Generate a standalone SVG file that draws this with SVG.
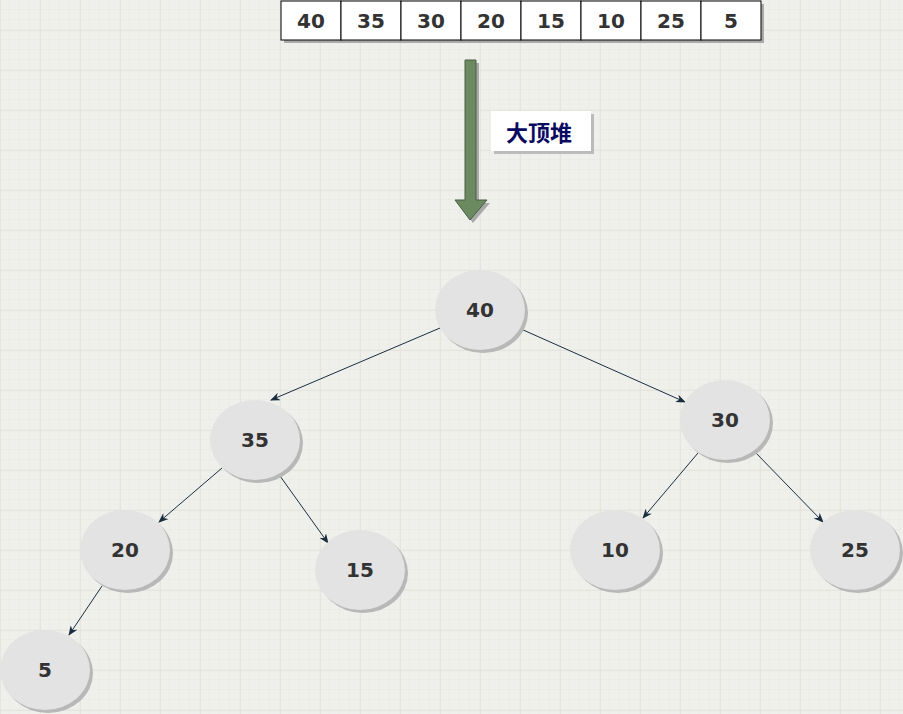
<svg xmlns="http://www.w3.org/2000/svg" width="903" height="714" viewBox="0 0 903 714">
<defs>
<pattern id="gm" width="10" height="10" patternUnits="userSpaceOnUse" x="0" y="0"><path d="M10 0V10M0 10H10" fill="none" stroke="#e4e4dc" stroke-width="0.6"/></pattern>
<pattern id="gM" width="40" height="40" patternUnits="userSpaceOnUse" x="0" y="30"><path d="M0 0H40M0 0V40" fill="none" stroke="#dcdccf" stroke-width="1"/></pattern>
<marker id="ah" markerWidth="10" markerHeight="8" refX="9" refY="4" orient="auto" markerUnits="userSpaceOnUse"><path d="M0 0L10 4L0 8L3 4Z" fill="#1b2e40"/></marker>
</defs>
<style>
.n ellipse.s{fill:#b8b8b8}
.n ellipse.f{fill:#e3e3e3}
.n text,.c text{font-family:"DejaVu Sans",sans-serif;font-size:20px;font-weight:bold;fill:#333;text-anchor:middle;dominant-baseline:central}
.c rect{fill:#fff;stroke:#000;stroke-width:1}
#conn line{stroke:#1b2e40;stroke-width:1;marker-end:url(#ah)}
</style>
<rect width="903" height="714" fill="#efefec"/>
<rect width="903" height="714" fill="url(#gm)"/>
<rect width="903" height="714" fill="url(#gM)"/>
<g id="array" class="c">
<rect x="284" y="4" width="480" height="39" style="fill:#aaa;stroke:none"/>
<rect x="281" y="1" width="60" height="39"/><text x="311" y="21">40</text>
<rect x="341" y="1" width="60" height="39"/><text x="371" y="21">35</text>
<rect x="401" y="1" width="60" height="39"/><text x="431" y="21">30</text>
<rect x="461" y="1" width="60" height="39"/><text x="491" y="21">20</text>
<rect x="521" y="1" width="60" height="39"/><text x="551" y="21">15</text>
<rect x="581" y="1" width="60" height="39"/><text x="611" y="21">10</text>
<rect x="641" y="1" width="60" height="39"/><text x="671" y="21">25</text>
<rect x="701" y="1" width="60" height="39"/><text x="731" y="21">5</text>
</g>
<g id="bigarrow">
<path d="M468 63H479V203H490L473 223L458 203H468Z" fill="#aaa"/>
<path d="M465 60H476V200H487L470 220L455 200H465Z" fill="#6b8a60" stroke="#4a5f44" stroke-width="1"/>
</g>
<g id="label">
<rect x="494" y="114" width="100" height="40" fill="#bbb"/>
<rect x="491" y="111" width="100" height="40" fill="#fff"/>
<text x="539" y="131" font-family="'Noto Sans CJK SC',sans-serif" font-size="22" font-weight="bold" fill="#0a0a60" text-anchor="middle" dominant-baseline="central">大顶堆</text>
</g>
<g id="conn">
<line x1="440" y1="328" x2="271" y2="400"/>
<line x1="521" y1="329" x2="685" y2="402"/>
<line x1="222" y1="468" x2="159" y2="522"/>
<line x1="280" y1="476" x2="328" y2="543"/>
<line x1="698" y1="453" x2="643" y2="518"/>
<line x1="755" y1="452" x2="823" y2="522"/>
<line x1="102" y1="586" x2="69" y2="635"/>
</g>
<g id="n40" class="n"><ellipse class="s" cx="483" cy="313" rx="45" ry="40"/><ellipse class="f" cx="480" cy="310" rx="45" ry="40"/><text x="480" y="310">40</text></g>
<g id="n35" class="n"><ellipse class="s" cx="258" cy="443" rx="45" ry="40"/><ellipse class="f" cx="255" cy="440" rx="45" ry="40"/><text x="255" y="440">35</text></g>
<g id="n30" class="n"><ellipse class="s" cx="728" cy="423" rx="45" ry="40"/><ellipse class="f" cx="725" cy="420" rx="45" ry="40"/><text x="725" y="420">30</text></g>
<g id="n20" class="n"><ellipse class="s" cx="128" cy="553" rx="45" ry="40"/><ellipse class="f" cx="125" cy="550" rx="45" ry="40"/><text x="125" y="550">20</text></g>
<g id="n15" class="n"><ellipse class="s" cx="363" cy="573" rx="45" ry="40"/><ellipse class="f" cx="360" cy="570" rx="45" ry="40"/><text x="360" y="570">15</text></g>
<g id="n10" class="n"><ellipse class="s" cx="618" cy="553" rx="45" ry="40"/><ellipse class="f" cx="615" cy="550" rx="45" ry="40"/><text x="615" y="550">10</text></g>
<g id="n25" class="n"><ellipse class="s" cx="858" cy="553" rx="45" ry="40"/><ellipse class="f" cx="855" cy="550" rx="45" ry="40"/><text x="855" y="550">25</text></g>
<g id="n5" class="n"><ellipse class="s" cx="48" cy="673" rx="45" ry="40"/><ellipse class="f" cx="45" cy="670" rx="45" ry="40"/><text x="45" y="670">5</text></g>
</svg>
